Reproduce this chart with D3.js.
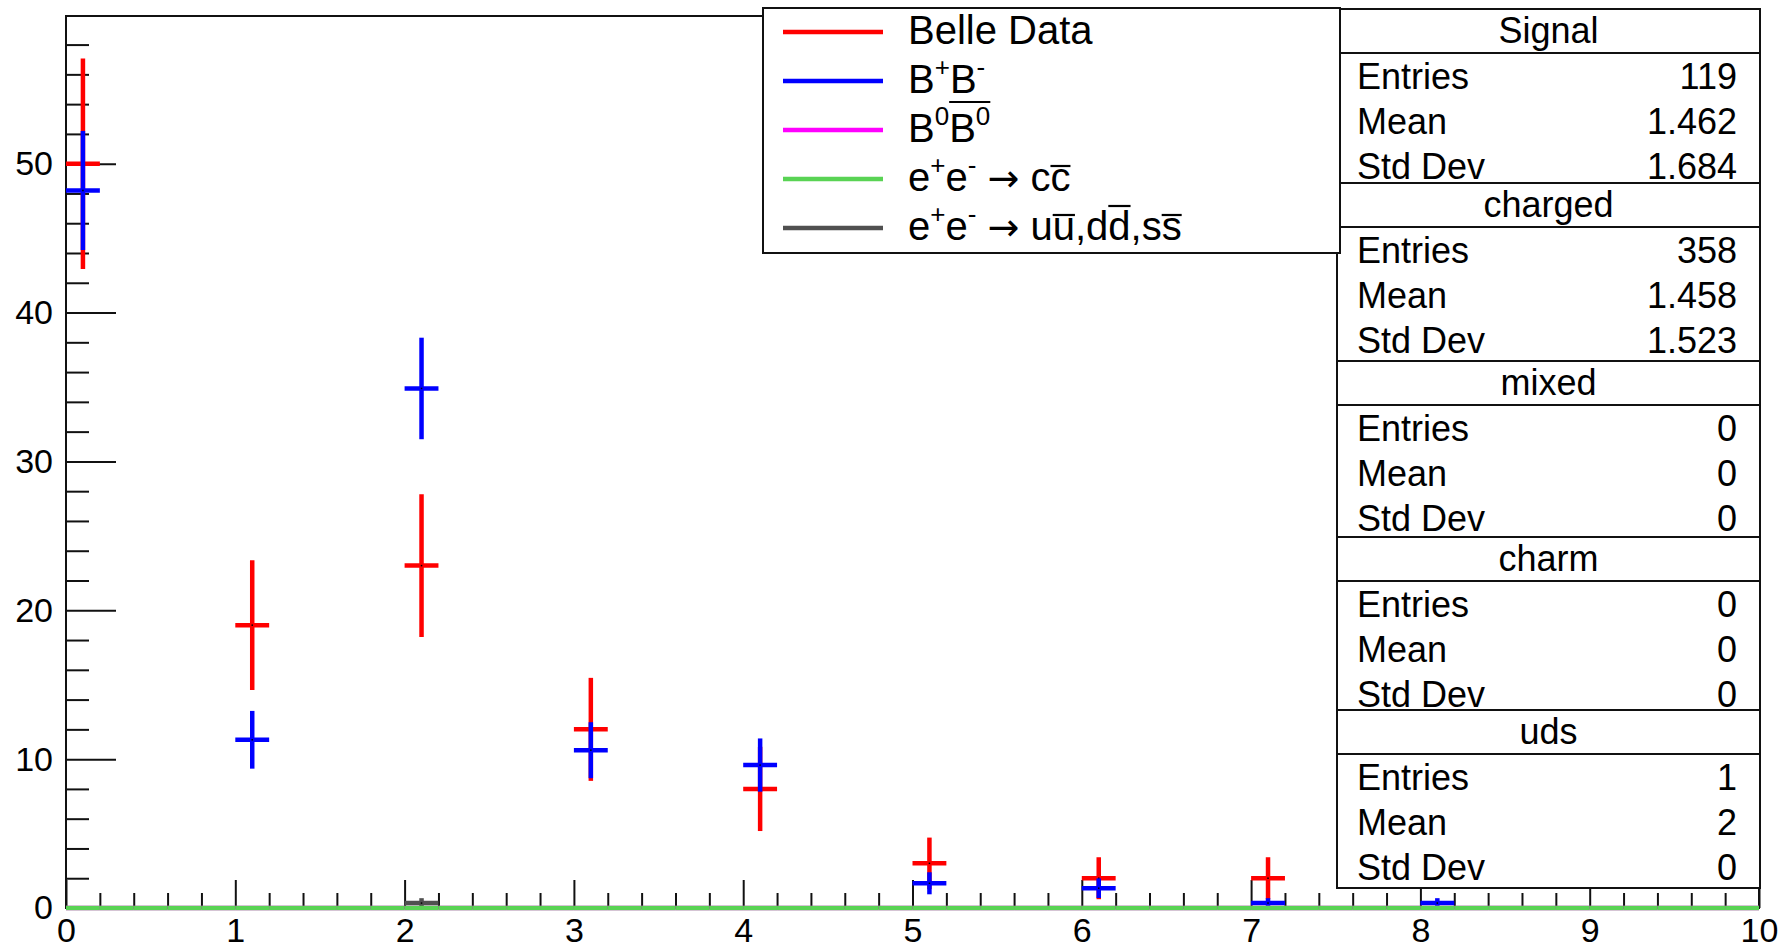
<!DOCTYPE html>
<html>
<head>
<meta charset="utf-8">
<script src="https://cdn.jsdelivr.net/npm/d3@7"></script>
<style>
  html, body { margin: 0; padding: 0; background: #fff; }
  svg { display: block; }
</style>
</head>
<body>
<div id="chart"></div>
<script>
// binning of the histograms
const xMin = 0, xMax = 10, binWidth = 0.2;
const yMax = 59.92;

// filled bins (low edge), contents and errors
const signalBins = [0, 1, 2, 3, 4, 5, 6, 7];
const signalValues = [50, 19, 23, 12, 8, 3, 2, 2];
const signalErrors = [7.07, 4.36, 4.8, 3.46, 2.83, 1.73, 1.41, 1.41];

const chargedBins = [0, 1, 2, 3, 4, 5, 6, 7, 8];
const chargedValues = [48.2, 11.3, 34.9, 10.6, 9.6, 1.66, 1.33, 0.33, 0.33];
const chargedErrors = [4.0, 1.94, 3.41, 1.88, 1.79, 0.74, 0.66, 0.33, 0.33];

const mixedBins = [], mixedValues = [], mixedErrors = [];
const charmBins = [], charmValues = [], charmErrors = [];

const udsBins = [2];
const udsValues = [0.33];
const udsErrors = [0.33];

// axis tick labels
const xLabels = [0, 1, 2, 3, 4, 5, 6, 7, 8, 9, 10];
const yLabels = [0, 10, 20, 30, 40, 50];

// stat boxes
const statTitles = ["Signal", "charged", "mixed", "charm", "uds"];
const statEntries = ["119", "358", "0", "0", "1"];
const statMeans = ["1.462", "1.458", "0", "0", "2"];
const statStdDevs = ["1.684", "1.523", "0", "0", "0"];

// legend (segments: sup = superscript, arrow = symbol glyph, bar = overline group, lvl = overline height)
const legendLabels = [
  [{ t: "Belle Data" }],
  [{ t: "B" }, { t: "+", sup: true }, { t: "B" }, { t: "-", sup: true }],
  [{ t: "B" }, { t: "0", sup: true }, { t: "B", bar: "b", lvl: "sup" }, { t: "0", sup: true, bar: "b" }],
  [{ t: "e" }, { t: "+", sup: true }, { t: "e" }, { t: "-", sup: true }, { t: " " }, { t: "\u2192", arrow: true },
   { t: " c" }, { t: "c", bar: "c", lvl: "lo" }],
  [{ t: "e" }, { t: "+", sup: true }, { t: "e" }, { t: "-", sup: true }, { t: " " }, { t: "\u2192", arrow: true },
   { t: " u" }, { t: "u", bar: "u", lvl: "lo" }, { t: ",d" }, { t: "d", bar: "d", lvl: "hi" }, { t: ",s" },
   { t: "s", bar: "s", lvl: "lo" }]
];
const legendColors = ["#ff0000", "#0000ff", "#ff00ff", "#59d354", "#505050"];

const width = 1782, height = 946;
const font = "'Liberation Sans', Arial, Helvetica, sans-serif";
const frame = { left: 66, right: 1759, top: 16, bottom: 908 };

const svg = d3.select("#chart").append("svg")
  .attr("width", width)
  .attr("height", height)
  .attr("font-family", font);

svg.append("rect").attr("width", width).attr("height", height).attr("fill", "#fff");

const x = d3.scaleLinear().domain([xMin, xMax]).range([frame.left, frame.right]);
const y = d3.scaleLinear().domain([0, yMax]).range([frame.bottom, frame.top]);

const isWhole = (d) => Math.abs(d - Math.round(d)) < 1e-6;

// Y axis, major + minor ticks pointing inside
const yMajor = svg.append("g")
  .attr("transform", "translate(" + frame.left + ",0)")
  .call(d3.axisLeft(y).tickValues(yLabels).tickSize(-50).tickPadding(13).tickFormat(d3.format("d")));
const yMinor = svg.append("g")
  .attr("transform", "translate(" + frame.left + ",0)")
  .call(d3.axisLeft(y).tickValues(y.ticks(30).filter((d) => d % 10 !== 0)).tickSize(-23).tickFormat(""));

// X axis
const xMajor = svg.append("g")
  .attr("transform", "translate(0," + frame.bottom + ")")
  .call(d3.axisBottom(x).tickValues(xLabels).tickSize(-28).tickPadding(10).tickFormat(d3.format("d")));
const xMinor = svg.append("g")
  .attr("transform", "translate(0," + frame.bottom + ")")
  .call(d3.axisBottom(x).tickValues(x.ticks(50).filter((d) => !isWhole(d))).tickSize(-15).tickFormat(""));

[yMajor, yMinor, xMajor, xMinor].forEach((g) => {
  g.select(".domain").remove();
  g.attr("font-family", font).attr("font-size", 34);
  g.selectAll("line").attr("stroke", "#111").attr("stroke-width", 2);
  g.selectAll("text").attr("fill", "#000");
});

// frame
svg.append("rect")
  .attr("x", frame.left)
  .attr("y", frame.top)
  .attr("width", frame.right - frame.left)
  .attr("height", frame.bottom - frame.top)
  .attr("fill", "none")
  .attr("stroke", "#111")
  .attr("stroke-width", 2);

// histograms drawn with error bars, like ROOT "E"
const binEdges = x.ticks(50).slice(0, -1);

function drawHist(bins, values, errors, color, showEmpty) {
  let rows = bins.map((b, i) => ({ lo: b, v: values[i], e: errors[i] }));
  if (showEmpty) {
    binEdges.forEach((lo) => {
      if (!rows.some((r) => Math.abs(r.lo - lo) < 1e-6)) rows.push({ lo: lo, v: 0, e: 0 });
    });
  }
  const g = svg.append("g").attr("stroke", color).attr("stroke-width", 4.5);
  g.selectAll(".hbar")
    .data(rows)
    .join("line")
    .attr("x1", (d) => x(d.lo))
    .attr("x2", (d) => x(d.lo + binWidth))
    .attr("y1", (d) => y(d.v))
    .attr("y2", (d) => y(d.v));
  g.selectAll(".vbar")
    .data(rows.filter((d) => d.e > 0))
    .join("line")
    .attr("x1", (d) => x(d.lo + binWidth / 2))
    .attr("x2", (d) => x(d.lo + binWidth / 2))
    .attr("y1", (d) => y(Math.max(0, d.v - d.e)))
    .attr("y2", (d) => y(d.v + d.e));
  // tiny marker dot
  svg.append("g").selectAll("rect")
    .data(rows.filter((d) => d.v > 0))
    .join("rect")
    .attr("x", (d) => x(d.lo + binWidth / 2) - 0.75)
    .attr("y", (d) => y(d.v) - 0.75)
    .attr("width", 1.5)
    .attr("height", 1.5)
    .attr("fill", "#000");
}

drawHist(signalBins, signalValues, signalErrors, legendColors[0], false);
drawHist(chargedBins, chargedValues, chargedErrors, legendColors[1], false);
drawHist(mixedBins, mixedValues, mixedErrors, legendColors[2], true);
drawHist(udsBins, udsValues, udsErrors, legendColors[4], false);
drawHist(charmBins, charmValues, charmErrors, legendColors[3], true);

// stat boxes
const statLeft = 1337, statRight = 1760;
const statEdges = [9, 183, 361, 537, 710, 888];
statTitles.forEach((title, i) => {
  const top = statEdges[i], bottom = statEdges[i + 1];
  const g = svg.append("g");
  g.append("rect")
    .attr("x", statLeft)
    .attr("y", top)
    .attr("width", statRight - statLeft)
    .attr("height", bottom - top)
    .attr("fill", "#fff")
    .attr("stroke", "#111")
    .attr("stroke-width", 2);
  g.append("line")
    .attr("x1", statLeft).attr("x2", statRight)
    .attr("y1", top + 44).attr("y2", top + 44)
    .attr("stroke", "#111").attr("stroke-width", 2);
  g.append("text")
    .attr("x", (statLeft + statRight) / 2)
    .attr("y", top + 34)
    .attr("text-anchor", "middle")
    .attr("font-size", 36)
    .text(title);
  const rows = [["Entries", statEntries[i]], ["Mean", statMeans[i]], ["Std Dev", statStdDevs[i]]];
  rows.forEach((r, j) => {
    const base = top + 80 + j * 45;
    g.append("text").attr("x", statLeft + 20).attr("y", base).attr("font-size", 36).text(r[0]);
    g.append("text").attr("x", statRight - 23).attr("y", base).attr("font-size", 36)
      .attr("text-anchor", "end").text(r[1]);
  });
});

// legend
const legend = { x: 763, y: 8, w: 577, h: 245 };
const lg = svg.append("g");
lg.append("rect")
  .attr("x", legend.x)
  .attr("y", legend.y)
  .attr("width", legend.w)
  .attr("height", legend.h)
  .attr("fill", "#fff")
  .attr("stroke", "#111")
  .attr("stroke-width", 2);

const fs = 40, supSize = 26, supRaise = 17;
legendLabels.forEach((segs, i) => {
  const cy = legend.y + 24 + i * 49;
  lg.append("line")
    .attr("x1", 783).attr("x2", 883)
    .attr("y1", cy).attr("y2", cy)
    .attr("stroke", legendColors[i])
    .attr("stroke-width", 4.5);
  const base = cy + 12;
  const text = lg.append("text").attr("x", 908).attr("y", base).attr("font-size", fs);
  let up = false;
  const nodes = segs.map((s) => {
    const t = text.append("tspan").text(s.t);
    if (s.sup) {
      t.attr("font-size", supSize);
      if (!up) { t.attr("dy", -supRaise); up = true; }
    } else if (up) {
      t.attr("dy", supRaise);
      up = false;
    }
    if (s.arrow) t.attr("font-family", "'DejaVu Sans', sans-serif").attr("font-size", 38);
    return t.node();
  });
  // overlines
  const groups = d3.group(segs.map((s, k) => ({ s: s, n: nodes[k] })).filter((d) => d.s.bar), (d) => d.s.bar);
  groups.forEach((arr) => {
    const first = arr[0].n, last = arr[arr.length - 1].n;
    const x1 = first.getStartPositionOfChar(0).x;
    const x2 = last.getEndPositionOfChar(last.getNumberOfChars() - 1).x;
    const lvl = arr[0].s.lvl;
    const yb = lvl === "sup" ? base - 40 : lvl === "hi" ? base - 34 : base - 25;
    lg.append("line")
      .attr("x1", x1).attr("x2", x2)
      .attr("y1", yb).attr("y2", yb)
      .attr("stroke", "#000")
      .attr("stroke-width", 2.2);
  });
});
</script>
</body>
</html>
